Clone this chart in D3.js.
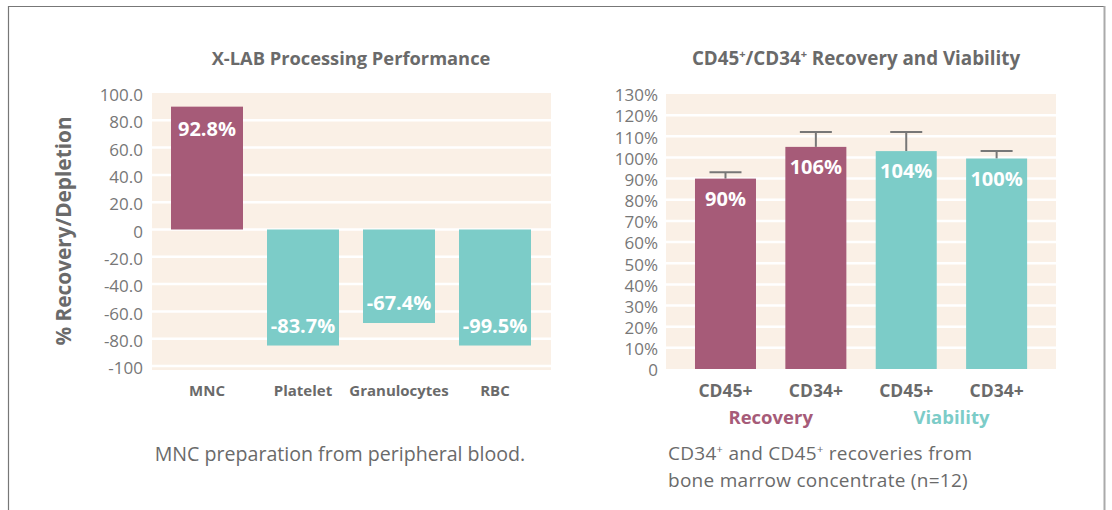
<!DOCTYPE html>
<html>
<head>
<meta charset="utf-8">
<script src="https://cdn.jsdelivr.net/npm/d3@7"></script>
<style>
  html, body { margin: 0; padding: 0; background: #fff; }
  svg { display: block; font-family: "Open Sans", "Noto Sans", sans-serif; }
</style>
</head>
<body>
<svg id="chart" width="1112" height="510"></svg>
<script>
// ---------- Data ----------
const leftCategories = ["MNC", "Platelet", "Granulocytes", "RBC"];
const leftValues = [90, -85, -68.5, -85];
const leftLabels = ["92.8%", "-83.7%", "-67.4%", "-99.5%"];
const leftColors = ["maroon", "teal", "teal", "teal"];
const leftTicks = [100, 80, 60, 40, 20, 0, -20, -40, -60, -80, -100];
const leftTickLabels = ["100.0", "80.0", "60.0", "40.0", "20.0", "0", "-20.0", "-40.0", "-60.0", "-80.0", "-100"];

const rightCategories = ["CD45+", "CD34+", "CD45+", "CD34+"];
const rightGroups = ["Recovery", "Recovery", "Viability", "Viability"];
const rightValues = [90, 105, 103, 99.5];
const rightErrorTop = [93, 112, 112, 103];
const rightLabels = ["90%", "106%", "104%", "100%"];
const rightTicks = [130, 120, 110, 100, 90, 80, 70, 60, 50, 40, 30, 20, 10, 0];
const rightTickLabels = ["130%", "120%", "110%", "100%", "90%", "80%", "70%", "60%", "50%", "40%", "30%", "20%", "10%", "0"];

const COLORS = { maroon: "#A65B78", teal: "#7CCCC8" };
const BG = "#FAF0E6";
const GREY_TEXT = "#6a6a6a";
const TICK_TEXT = "#777777";

const svg = d3.select("#chart");

// ---------- Frame ----------
svg.append("line").attr("x1", 8).attr("x2", 1105).attr("y1", 6.5).attr("y2", 6.5)
  .attr("stroke", "#777").attr("stroke-width", 1.2);
svg.append("line").attr("x1", 8.5).attr("x2", 8.5).attr("y1", 6).attr("y2", 510)
  .attr("stroke", "#777").attr("stroke-width", 1.2);
svg.append("line").attr("x1", 1104.5).attr("x2", 1104.5).attr("y1", 6).attr("y2", 510)
  .attr("stroke", "#aaa").attr("stroke-width", 2);

// ---------- Left chart ----------
{
  const plotL = 152, plotR = 551, plotT = 93, plotB = 370;
  const y = d3.scaleLinear().domain([-100, 100]).range([366, 93]);
  const x = d3.scaleBand().domain(leftCategories).range([159, 543])
    .paddingInner(0.25).paddingOuter(0.125);

  const g = svg.append("g");
  g.append("rect").attr("x", plotL).attr("y", plotT).attr("width", plotR - plotL).attr("height", plotB - plotT)
    .attr("fill", BG);

  g.selectAll("line.grid").data(leftTicks.filter(t => t !== 100)).join("line")
    .attr("class", "grid")
    .attr("x1", plotL).attr("x2", plotR)
    .attr("y1", d => y(d)).attr("y2", d => y(d))
    .attr("stroke", "#fff").attr("stroke-width", 2.5);

  const axis = d3.axisLeft(y).tickValues(leftTicks).tickSize(0).tickPadding(0)
    .tickFormat((d, i) => leftTickLabels[i]);
  const ag = g.append("g").attr("transform", "translate(143,0)").call(axis);
  ag.select(".domain").remove();
  ag.selectAll("text").attr("fill", TICK_TEXT).style("font-size", "17px")
    .style("font-family", "'Open Sans', sans-serif").attr("dy", "0.45em");

  g.selectAll("rect.bar").data(leftValues).join("rect")
    .attr("class", "bar")
    .attr("x", (d, i) => x(leftCategories[i]))
    .attr("width", x.bandwidth())
    .attr("y", d => y(Math.max(0, d)))
    .attr("height", d => Math.abs(y(d) - y(0)))
    .attr("fill", (d, i) => COLORS[leftColors[i]]);

  g.selectAll("text.val").data(leftValues).join("text")
    .attr("class", "val")
    .attr("x", (d, i) => x(leftCategories[i]) + x.bandwidth() / 2)
    .attr("y", d => d >= 0 ? y(d) + 29 : y(d) - 13)
    .attr("text-anchor", "middle")
    .attr("fill", "#fff").style("font-weight", 700).style("font-size", "20px")
    .text((d, i) => leftLabels[i]);

  g.selectAll("text.cat").data(leftCategories).join("text")
    .attr("class", "cat")
    .attr("x", d => x(d) + x.bandwidth() / 2)
    .attr("y", 396)
    .attr("text-anchor", "middle")
    .attr("fill", GREY_TEXT).style("font-weight", 700).style("font-size", "15px")
    .text(d => d);

  g.append("text")
    .attr("transform", "translate(71,231) rotate(-90)")
    .attr("text-anchor", "middle")
    .attr("fill", GREY_TEXT).style("font-weight", 700).style("font-size", "20.8px")
    .text("% Recovery/Depletion");

  g.append("text").attr("x", 351).attr("y", 65).attr("text-anchor", "middle")
    .attr("fill", GREY_TEXT).style("font-weight", 700).style("font-size", "18.3px")
    .text("X-LAB Processing Performance");

  g.append("text").attr("x", 340).attr("y", 461).attr("text-anchor", "middle")
    .attr("fill", GREY_TEXT).style("font-size", "19.6px")
    .text("MNC preparation from peripheral blood.");
}

// ---------- Right chart ----------
{
  const plotL = 666, plotR = 1056, plotT = 94, plotB = 369;
  const y = d3.scaleLinear().domain([0, 130]).range([plotB, plotT]);
  const idx = rightCategories.map((d, i) => i);
  const x = d3.scaleBand().domain(idx).range([680.3, 1041.8])
    .paddingInner(0.325).paddingOuter(0.1625);

  const g = svg.append("g");
  g.append("rect").attr("x", plotL).attr("y", plotT).attr("width", plotR - plotL).attr("height", plotB - plotT)
    .attr("fill", BG);

  g.selectAll("line.grid").data(rightTicks.filter(t => t !== 130 && t !== 0)).join("line")
    .attr("class", "grid")
    .attr("x1", plotL).attr("x2", plotR)
    .attr("y1", d => y(d)).attr("y2", d => y(d))
    .attr("stroke", "#fff").attr("stroke-width", 2.5);

  const axis = d3.axisLeft(y).tickValues(rightTicks).tickSize(0).tickPadding(0)
    .tickFormat((d, i) => rightTickLabels[i]);
  const ag = g.append("g").attr("transform", "translate(658,0)").call(axis);
  ag.select(".domain").remove();
  ag.selectAll("text").attr("fill", TICK_TEXT).style("font-size", "17px")
    .style("font-family", "'Open Sans', sans-serif").attr("dy", "0.4em");

  const colorOf = i => rightGroups[i] === "Recovery" ? COLORS.maroon : COLORS.teal;

  // error bars
  const eg = g.selectAll("g.err").data(rightErrorTop).join("g").attr("class", "err");
  eg.append("line")
    .attr("x1", (d, i) => x(i) + x.bandwidth() / 2).attr("x2", (d, i) => x(i) + x.bandwidth() / 2)
    .attr("y1", (d, i) => y(rightValues[i])).attr("y2", d => y(d))
    .attr("stroke", "#777").attr("stroke-width", 2);
  eg.append("line")
    .attr("x1", (d, i) => x(i) + x.bandwidth() / 2 - 16).attr("x2", (d, i) => x(i) + x.bandwidth() / 2 + 16)
    .attr("y1", d => y(d)).attr("y2", d => y(d))
    .attr("stroke", "#777").attr("stroke-width", 2);

  g.selectAll("rect.bar").data(rightValues).join("rect")
    .attr("class", "bar")
    .attr("x", (d, i) => x(i))
    .attr("width", x.bandwidth())
    .attr("y", d => y(d))
    .attr("height", d => y(0) - y(d))
    .attr("fill", (d, i) => colorOf(i));

  g.selectAll("text.val").data(rightValues).join("text")
    .attr("class", "val")
    .attr("x", (d, i) => x(i) + x.bandwidth() / 2)
    .attr("y", d => y(d) + 27)
    .attr("text-anchor", "middle")
    .attr("fill", "#fff").style("font-weight", 700).style("font-size", "20px")
    .text((d, i) => rightLabels[i]);

  g.selectAll("text.cat").data(rightCategories).join("text")
    .attr("class", "cat")
    .attr("x", (d, i) => x(i) + x.bandwidth() / 2)
    .attr("y", 397)
    .attr("text-anchor", "middle")
    .attr("fill", GREY_TEXT).style("font-weight", 700).style("font-size", "17.5px")
    .text(d => d);

  const groups = Array.from(new Set(rightGroups));
  g.selectAll("text.grp").data(groups).join("text")
    .attr("class", "grp")
    .attr("x", gname => {
      const ids = idx.filter(i => rightGroups[i] === gname);
      return d3.mean(ids, i => x(i) + x.bandwidth() / 2);
    })
    .attr("y", 424)
    .attr("text-anchor", "middle")
    .attr("fill", gname => gname === "Recovery" ? COLORS.maroon : COLORS.teal)
    .style("font-weight", 700).style("font-size", "18.5px")
    .text(d => d);

  const title = g.append("text").attr("x", 856).attr("y", 65).attr("text-anchor", "middle")
    .attr("fill", GREY_TEXT).style("font-weight", 700).style("font-size", "18.8px");
  title.append("tspan").text("CD45");
  title.append("tspan").attr("baseline-shift", "super").style("font-size", "11px").text("+");
  title.append("tspan").text("/CD34");
  title.append("tspan").attr("baseline-shift", "super").style("font-size", "11px").text("+");
  title.append("tspan").text(" Recovery and Viability");

  // two-line caption
  const cap = g.append("text").attr("x", 668).attr("y", 460)
    .attr("fill", GREY_TEXT).style("font-size", "19px").style("letter-spacing", "0.28px");
  cap.append("tspan").text("CD34");
  cap.append("tspan").attr("baseline-shift", "super").style("font-size", "11px").text("+");
  cap.append("tspan").text(" and CD45");
  cap.append("tspan").attr("baseline-shift", "super").style("font-size", "11px").text("+");
  cap.append("tspan").text(" recoveries from");
  g.append("text").attr("x", 668).attr("y", 486.5)
    .attr("fill", GREY_TEXT).style("font-size", "19px").style("letter-spacing", "0.28px")
    .text("bone marrow concentrate (n=12)");
}
</script>
</body>
</html>
